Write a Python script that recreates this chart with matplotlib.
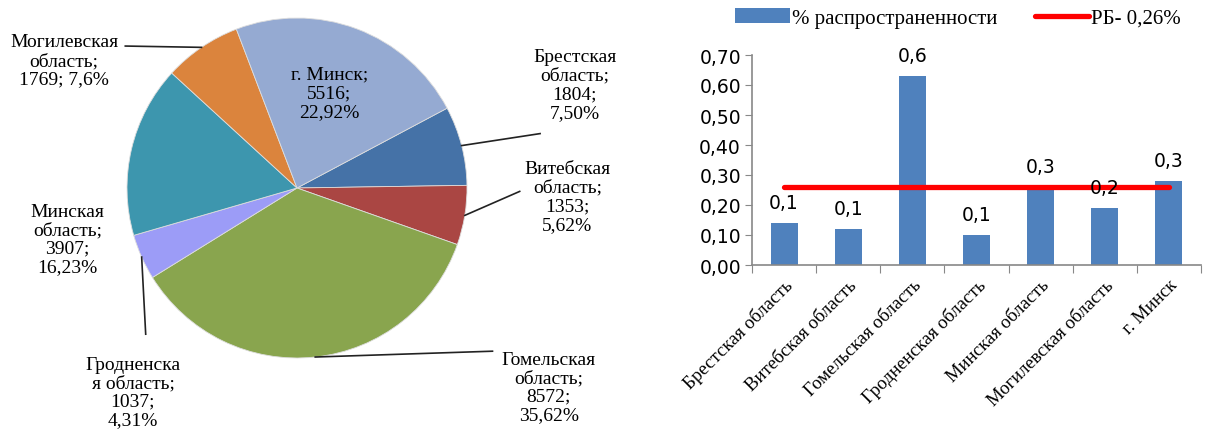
import numpy as np
import matplotlib.pyplot as plt

# pie data (clockwise from Брестская)
pie_names = ["Брестская область", "Витебская область", "Гомельская область",
             "Гродненская область", "Минская область", "Могилевская область", "г. Минск"]
pie_counts = [1804, 1353, 8572, 1037, 3907, 1769, 5516]
pie_labels = ["Брестская\nобласть;\n1804;\n7,50%",
              "Витебская\nобласть;\n1353;\n5,62%",
              "Гомельская\nобласть;\n8572;\n35,62%",
              "Гродненска\nя область;\n1037;\n4,31%",
              "Минская\nобласть;\n3907;\n16,23%",
              "Могилевская\nобласть;\n1769; 7,6%",
              "г. Минск;\n5516;\n22,92%"]
pie_colors = ["#4572A7", "#AA4643", "#89A54E", "#9C9CF7", "#3D96AE", "#DB843D", "#95AAD2"]

# bar data
bar_names = ["Брестская область", "Витебская область", "Гомельская область",
             "Гродненская область", "Минская область", "Могилевская область", "г. Минск"]
bar_values = [0.14, 0.12, 0.63, 0.10, 0.26, 0.19, 0.28]
rb_level = 0.26

serif = "Liberation Serif"
sans = "DejaVu Sans"

fig = plt.figure(figsize=(12.06, 4.39), dpi=100)
W, H = 1206, 439

# ---- pie ----
cx, cy, r = 297, 189, 170
ax1 = fig.add_axes([(cx - r) / W, (H - cy - r) / H, 2 * r / W, 2 * r / H])
wedges, _ = ax1.pie(pie_counts, colors=pie_colors, startangle=28, counterclock=False,
                    wedgeprops=dict(linewidth=0.6, edgecolor="#dddddd"))
ax1.set_xlim(-1, 1)
ax1.set_ylim(-1, 1)
ax1.set_aspect("equal")
ax1.axis("off")

# label positions (in radius units) and leader end points
label_pos = [(1.635, 0.61), (1.59, -0.05), (1.48, -1.17), (-0.965, -1.2),
             (-1.35, -0.30), (-1.37, 0.75), (0.19, 0.56)]
leader_end = [(1.43, 0.32), (1.31, -0.02), (1.15, -0.96), (-0.89, -0.86),
              None, (-1.01, 0.835), None]

for w, lab, pos, end in zip(wedges, pie_labels, label_pos, leader_end):
    ax1.text(pos[0], pos[1], lab, ha="center", va="center", fontsize=14,
             family=serif, linespacing=1.12, clip_on=False)
    if end is not None:
        mid = np.deg2rad((w.theta1 + w.theta2) / 2)
        ax1.plot([np.cos(mid), end[0]], [np.sin(mid), end[1]], color="#222222",
                 lw=1.2, clip_on=False)

# ---- bars ----
left, right, top, bottom = 752, 1201, 56, 266
ax2 = fig.add_axes([left / W, (H - bottom) / H, (right - left) / W, (bottom - top) / H])
x = np.arange(len(bar_values))
bars = ax2.bar(x, bar_values, width=0.42, color="#4F81BD", label="% распространенности", zorder=2)
ax2.plot([x[0], x[-1]], [rb_level, rb_level], color="#FF0000", lw=3.8,
         solid_capstyle="round", label="РБ- 0,26%", zorder=3)
for xi, v in zip(x, bar_values):
    ax2.annotate(f"{v:.1f}".replace(".", ","), (xi, v), xytext=(0, 8),
                 textcoords="offset points", ha="center", va="bottom",
                 fontsize=13.5, family=sans, zorder=4)

ax2.set_xlim(-0.5, len(bar_values) - 0.5)
ax2.set_ylim(0, 0.7)
yt = np.arange(0, 0.71, 0.1)
ax2.set_yticks(yt)
ax2.set_yticklabels([f"{t:.2f}".replace(".", ",") for t in yt], family=sans, fontsize=13.5)
ax2.set_xticks(np.arange(-0.5, len(bar_values), 1.0))
ax2.set_xticklabels([])
ax2.set_xticks(x, minor=True)
ax2.set_xticklabels(bar_names, minor=True, rotation=45, ha="right",
                    rotation_mode="anchor", family=serif, fontsize=13.5)
ax2.tick_params(axis="x", which="minor", length=0, pad=8)
ax2.tick_params(axis="x", which="major", length=6, color="#888888")
ax2.tick_params(axis="y", length=5, color="#888888", pad=3)
for s in ["top", "right"]:
    ax2.spines[s].set_visible(False)
for s in ["left", "bottom"]:
    ax2.spines[s].set_color("#888888")
    ax2.spines[s].set_linewidth(1.2)

fig.legend(handles=[bars, ax2.lines[0]], labels=["% распространенности", "РБ- 0,26%"],
           loc="center", bbox_to_anchor=(958 / W, 1 - 19 / H), ncol=2, frameon=False,
           prop=dict(family=serif, size=15), handlelength=2.6, handleheight=0.7,
           handletextpad=0.1, columnspacing=1.8, borderpad=0)

fig.savefig("out.png", dpi=100)
